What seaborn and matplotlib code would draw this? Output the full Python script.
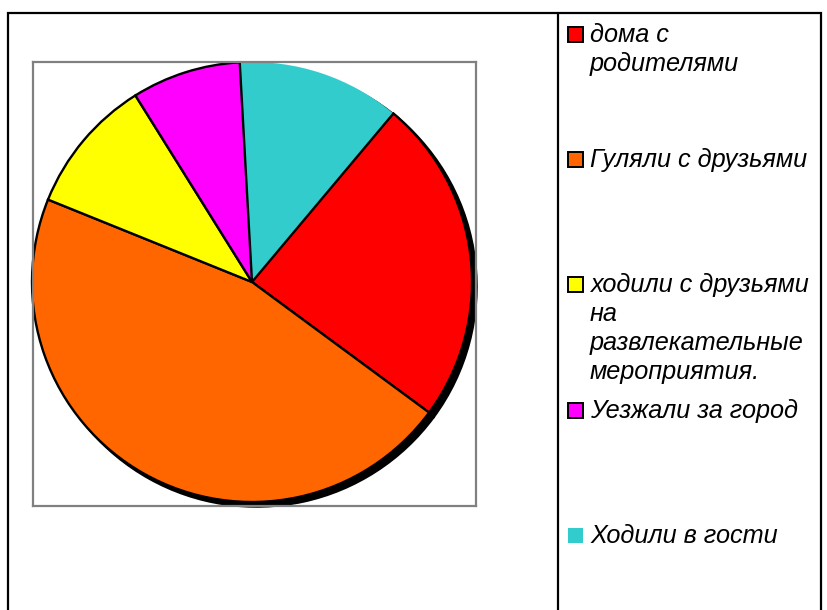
import matplotlib
matplotlib.use('Agg')

import matplotlib.pyplot as plt
from matplotlib.patches import Rectangle
from matplotlib.lines import Line2D
import seaborn as sns

# данные диаграммы
labels = ['дома с\nродителями',
          'Гуляли с друзьями',
          'ходили с друзьями\nна\nразвлекательные\nмероприятия.',
          'Уезжали за город',
          'Ходили в гости']
values = [24, 46, 10, 8, 12]
colors = ['#FF0000', '#FF6600', '#FFFF00', '#FF00FF', '#33CCCC']

sns.set_theme(style='white')
plt.rcParams['font.family'] = ['Liberation Sans', 'DejaVu Sans']

W, H = 827, 610
fig = plt.figure(figsize=(W / 100, H / 100), dpi=100)
fig.patch.set_facecolor('white')


def fx(px):
    return px / W


def fy(py):
    return 1 - py / H


# рамка диаграммы и рамка легенды
fig.patches.append(Rectangle((fx(8), fy(640)), fx(821) - fx(8), fy(13) - fy(640),
                             transform=fig.transFigure, fill=False,
                             edgecolor='black', linewidth=1.6))
fig.lines.append(Line2D([fx(558), fx(558)], [fy(13), fy(640)],
                        transform=fig.transFigure, color='black', linewidth=1.6))

# область построения
ax = fig.add_axes([fx(33), fy(506), fx(476) - fx(33), fy(62) - fy(506)])
# смещение тени задаётся в единицах данных * dpi/72
wedges, _ = ax.pie(values, colors=colors, startangle=50, counterclock=False,
                   wedgeprops={'edgecolor': 'black', 'linewidth': 1.7},
                   shadow={'ox': 0.015, 'oy': -0.015, 'facecolor': 'black',
                           'edgecolor': 'black', 'alpha': 1})
wedges[-1].set_edgecolor('none')
for w in wedges[:-1]:
    w.set_zorder(w.get_zorder() + 0.5)
ax.set_aspect('auto')
ax.set_xlim((33 - 252) / 220, (476 - 252) / 220)
ax.set_ylim(-(506 - 282) / 220, (282 - 62) / 220)
ax.set_frame_on(True)
for sp in ax.spines.values():
    sp.set_visible(True)
    sp.set_color('#808080')
    sp.set_linewidth(1.6)
ax.set_xticks([])
ax.set_yticks([])

# легенда: маркер по первой строке подписи
base0, step, line_h = 42, 125.2, 29
for i, (lab, col) in enumerate(zip(labels, colors)):
    b = base0 + i * step
    edge = 'none' if i == len(labels) - 1 else 'black'
    fig.patches.append(Rectangle((fx(567.5), fy(b)), fx(582.5) - fx(567.5), fy(b - 15) - fy(b),
                                 transform=fig.transFigure, facecolor=col,
                                 edgecolor=edge, linewidth=1.4))
    for j, line in enumerate(lab.split('\n')):
        fig.text(fx(590), fy(b + j * line_h), line, fontsize=18.2, style='italic',
                 color='black', ha='left', va='baseline')

fig.savefig('out.png', dpi=100)
